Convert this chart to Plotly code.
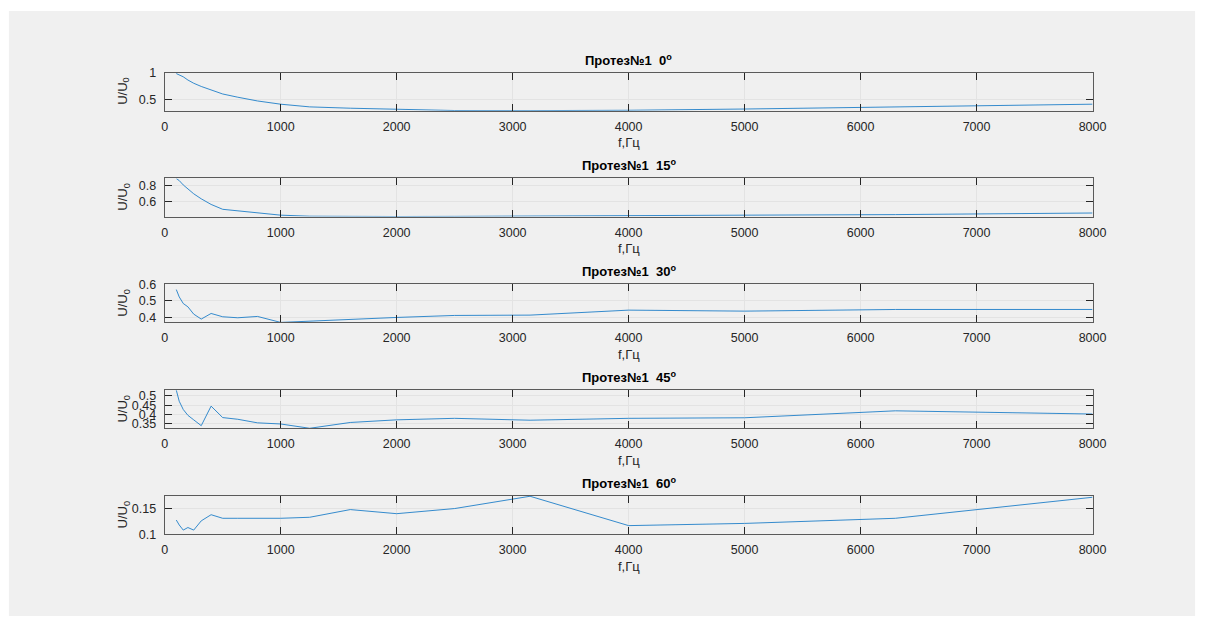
import plotly.graph_objects as go

W, H = 1215, 628

freq = [100, 125, 160, 200, 250, 315, 400, 500, 630, 800, 1000, 1250, 1600,
        2000, 2500, 3150, 4000, 5000, 6300, 8000]

u_0 = [0.98, 0.96, 0.92, 0.86, 0.80, 0.74, 0.67, 0.60, 0.54, 0.47, 0.41, 0.36,
       0.335, 0.315, 0.292, 0.29, 0.297, 0.32, 0.355, 0.41]
u_15 = [0.89, 0.865, 0.81, 0.76, 0.70, 0.637, 0.567, 0.506, 0.486, 0.465, 0.433,
        0.42, 0.416, 0.416, 0.418, 0.42, 0.425, 0.433, 0.44, 0.46]
u_30 = [0.568, 0.524, 0.484, 0.464, 0.42, 0.39, 0.424, 0.404, 0.398, 0.406, 0.37,
        0.378, 0.388, 0.40, 0.412, 0.414, 0.444, 0.438, 0.448, 0.448]
u_45 = [0.53, 0.471, 0.427, 0.396, 0.372, 0.341, 0.445, 0.384, 0.375, 0.356, 0.35,
        0.327, 0.358, 0.372, 0.38, 0.37, 0.38, 0.383, 0.42, 0.403]
u_60 = [0.1276, 0.118, 0.108, 0.113, 0.108, 0.126, 0.138, 0.131, 0.131, 0.131, 0.131,
        0.133, 0.148, 0.140, 0.150, 0.174, 0.1167, 0.121, 0.131, 0.172]

angles = ["0", "15", "30", "45", "60"]
series = [u_0, u_15, u_30, u_45, u_60]
y_ranges = [[0.29, 1.0], [0.416, 0.892], [0.37, 0.6], [0.327, 0.53], [0.1, 0.1744]]
y_ticks = [[0.5, 1], [0.6, 0.8], [0.4, 0.5, 0.6], [0.35, 0.4, 0.45, 0.5], [0.1, 0.15]]
y_ticktext = [["0.5", "1"], ["0.6", "0.8"], ["0.4", "0.5", "0.6"],
              ["0.35", "0.4", "0.45", "0.5"], ["0.1", "0.15"]]
x_ticks = [0, 1000, 2000, 3000, 4000, 5000, 6000, 7000, 8000]

FONT = "Arial, Liberation Sans, Helvetica, sans-serif"
LEFT, RIGHT = 164, 1105
TOP0, STEP, HEIGHT = 67, 108.3, 39

fig = go.Figure()
layout = dict(
    width=W, height=H,
    margin=dict(l=0, r=0, t=0, b=0),
    paper_bgcolor="white",
    plot_bgcolor="white",
    showlegend=False,
    font=dict(family=FONT, size=12, color="#262626"),
    shapes=[dict(type="rect", xref="paper", yref="paper",
                 x0=6 / W, x1=1209 / W, y0=1 - 623 / H, y1=1 - 4 / H,
                 fillcolor="#f0f0f0", line=dict(width=0), layer="below")],
    annotations=[],
)

for i, (ang, vals) in enumerate(zip(angles, series)):
    top = TOP0 + STEP * i
    bot = top + HEIGHT
    n = "" if i == 0 else str(i + 1)
    xa, ya = "x" + n, "y" + n
    fig.add_trace(go.Scatter(x=freq, y=vals, mode="lines", xaxis=xa, yaxis=ya,
                             line=dict(color="#1f7fc8", width=0.9),
                             hoverinfo="skip"))
    common = dict(showline=True, linecolor="#5a5a5a", linewidth=1, mirror="ticks",
                  ticks="inside", ticklen=7, tickcolor="#262626", tickwidth=1,
                  showgrid=True, gridcolor="#e3e3e3", gridwidth=1, zeroline=False,
                  tickfont=dict(family=FONT, size=12.5, color="#262626"))
    layout["xaxis" + n] = dict(common, domain=[LEFT / W, RIGHT / W], range=[0, 8000],
                               tickvals=x_ticks, ticktext=[str(v) for v in x_ticks],
                               anchor=ya, ticklabelstandoff=4)
    layout["yaxis" + n] = dict(common, domain=[1 - bot / H, 1 - top / H],
                               range=y_ranges[i], tickvals=y_ticks[i],
                               ticktext=y_ticktext[i], anchor=xa,
                               ticklabelstandoff=5)
    # title
    layout["annotations"].append(dict(
        text="<b>Протез№1  " + ang + "<sup>o</sup></b>", xref="paper", yref="paper",
        x=(LEFT + RIGHT) / 2 / W, y=1 - (top - 3) / H, xanchor="center", yanchor="bottom",
        showarrow=False, font=dict(family=FONT, size=13, color="black")))
    # x label
    layout["annotations"].append(dict(
        text="f,Гц", xref="paper", yref="paper",
        x=(LEFT + RIGHT) / 2 / W, y=1 - (bot + 23) / H, xanchor="center", yanchor="top",
        showarrow=False, font=dict(family=FONT, size=13, color="#262626")))
    # y label
    layout["annotations"].append(dict(
        text="U/U<sub>0</sub>", xref="paper", yref="paper", textangle=-90,
        x=122 / W, y=1 - (top + bot) / 2 / H, xanchor="center", yanchor="middle",
        showarrow=False, font=dict(family=FONT, size=13, color="#262626")))

fig.update_layout(**layout)
fig.write_html("out.html",
               config={"displayModeBar": False},
               post_script="document.body.style.margin='0';"
                           "document.body.style.overflow='hidden';")
